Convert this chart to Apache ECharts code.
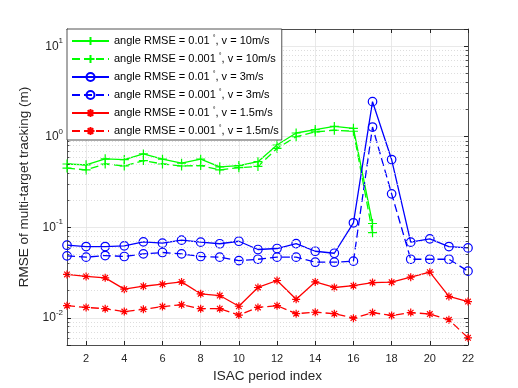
<!DOCTYPE html>
<html>
<head>
<meta charset="utf-8">
<script src="https://cdn.jsdelivr.net/npm/echarts@6/dist/echarts.min.js"></script>
<style>
  html, body { margin: 0; padding: 0; background: #fff; }
  #chart { width: 518px; height: 388px; }
</style>
</head>
<body>
<div id="chart"></div>
<script>
// ISAC period index 1..22
var periods = ['1','2','3','4','5','6','7','8','9','10','11','12','13','14','15','16','17','18','19','20','21','22'];

// v = 10m/s (stops at period 17)
var green01  = [0.50, 0.49, 0.57, 0.56, 0.645, 0.565, 0.51, 0.565, 0.465, 0.48, 0.53, 0.81, 1.10, 1.20, 1.30, 1.24, 0.11];
var green001 = [0.45, 0.43, 0.50, 0.475, 0.545, 0.50, 0.475, 0.48, 0.43, 0.455, 0.47, 0.745, 1.0, 1.13, 1.18, 1.15, 0.087];
// v = 3m/s
var blue01  = [0.0633, 0.0612, 0.0612, 0.0623, 0.069, 0.0667, 0.072, 0.0684, 0.0657, 0.070, 0.0568, 0.0582, 0.066, 0.0543, 0.0516, 0.112, 2.44, 0.56, 0.0684, 0.0744, 0.0612, 0.0591];
var blue001 = [0.0483, 0.0467, 0.0487, 0.0475, 0.0508, 0.0526, 0.0508, 0.0475, 0.0467, 0.0428, 0.0443, 0.0467, 0.0467, 0.0411, 0.0411, 0.0422, 1.28, 0.234, 0.0443, 0.0443, 0.0443, 0.0327];
// v = 1.5m/s
var red01  = [0.0301, 0.0286, 0.0276, 0.0207, 0.0223, 0.0235, 0.0249, 0.0184, 0.0176, 0.0134, 0.0216, 0.0258, 0.0160, 0.0249, 0.0216, 0.0226, 0.0245, 0.0247, 0.0281, 0.0319, 0.0172, 0.0151];
var red001 = [0.0136, 0.0130, 0.0126, 0.0117, 0.0124, 0.0133, 0.0139, 0.0126, 0.0126, 0.0107, 0.0130, 0.0136, 0.0111, 0.0115, 0.0111, 0.0099, 0.0114, 0.0106, 0.0114, 0.0110, 0.0095, 0.0060];

var names = [
  'angle RMSE = 0.01°, v = 10m/s',
  'angle RMSE = 0.001°, v = 10m/s',
  'angle RMSE = 0.01°, v = 3m/s',
  'angle RMSE = 0.001°, v = 3m/s',
  'angle RMSE = 0.01°, v = 1.5m/s',
  'angle RMSE = 0.001°, v = 1.5m/s'
];

// minor log levels (2..9 per decade)
var minorLevels = [0.006, 0.007, 0.008, 0.009,
  0.02, 0.03, 0.04, 0.05, 0.06, 0.07, 0.08, 0.09,
  0.2, 0.3, 0.4, 0.5, 0.6, 0.7, 0.8, 0.9,
  2, 3, 4, 5, 6, 7, 8, 9];

var yMin = 0.005, yMax = 15.5;
var axisColor = '#262626';
var font = 'Liberation Sans';

var plusPath = 'path://M5,0V10M0,5H10';
var starPath = 'path://M5,0V10M0,5H10M1.5,1.5L8.5,8.5M8.5,1.5L1.5,8.5';

var evenOnly = function (idx) { return idx % 2 === 1; };

function makeSeries(name, data, color, dashed, symbol, size) {
  return {
    name: name,
    type: 'line',
    data: data,
    color: color,
    symbol: symbol,
    symbolSize: size,
    showAllSymbol: true,
    animation: false,
    z: 3,
    lineStyle: { color: color, width: 1.3, type: dashed ? [8, 4] : 'solid' },
    itemStyle: { color: 'rgba(0,0,0,0)', borderColor: color, borderWidth: 1.2 }
  };
}

// dotted minor grid lines + short minor ticks at both plot edges,
// drawn on a hidden 0..1 helper x axis
var minorGrid = [];
minorLevels.forEach(function (v) {
  minorGrid.push([{ coord: [0, v] }, { coord: [1, v] }]);
});
var minorTicks = [];
minorLevels.forEach(function (v) {
  minorTicks.push([{ coord: [0, v] }, { coord: [0.006, v] }]);
  minorTicks.push([{ coord: [0.994, v] }, { coord: [1, v] }]);
});

var chart = echarts.init(document.getElementById('chart'));

var option = {
  backgroundColor: '#fff',
  animation: false,
  textStyle: { fontFamily: font },
  grid: { left: 67, right: 50, top: 29, bottom: 43 },
  legend: {
    data: names,
    orient: 'vertical',
    left: 67,
    top: 29,
    itemWidth: 37,
    itemHeight: 10,
    itemGap: 6,
    padding: [6, 3, 3, 4],
    backgroundColor: '#fff',
    borderColor: axisColor,
    borderWidth: 0.8,
    z: 10,
    formatter: function (name) { return name.replace('°', '{sup|°}'); },
    textStyle: {
      fontFamily: font, fontSize: 11, color: '#000', lineHeight: 12,
      rich: { sup: { fontSize: 7, verticalAlign: 'top', padding: [0, 0, 0, 3] } }
    }
  },
  xAxis: [{
    type: 'category',
    data: periods,
    boundaryGap: false,
    name: 'ISAC period index',
    nameLocation: 'middle',
    nameGap: 24,
    nameTextStyle: { fontFamily: font, fontSize: 13.5, color: axisColor },
    axisLine: { lineStyle: { color: axisColor, width: 0.8 } },
    axisTick: { inside: true, length: 4, interval: evenOnly, lineStyle: { color: axisColor } },
    axisLabel: { interval: evenOnly, margin: 8, fontFamily: font, fontSize: 11, color: axisColor },
    splitLine: { show: true, interval: evenOnly, lineStyle: { color: '#e3e3e3', width: 0.8 } }
  }, {
    type: 'category',
    data: periods,
    boundaryGap: false,
    position: 'top',
    axisLine: { lineStyle: { color: axisColor, width: 0.8 } },
    axisTick: { inside: true, length: 4, interval: evenOnly, lineStyle: { color: axisColor } },
    axisLabel: { show: false },
    splitLine: { show: false }
  }, {
    type: 'value',
    min: 0,
    max: 1,
    show: false
  }],
  yAxis: [{
    type: 'log',
    min: yMin,
    max: yMax,
    name: 'RMSE of multi-target tracking (m)',
    nameLocation: 'middle',
    nameGap: 31,
    nameTextStyle: { fontFamily: font, fontSize: 13.5, color: axisColor },
    axisLine: { show: true, lineStyle: { color: axisColor, width: 0.8 } },
    axisTick: { inside: true, length: 4, lineStyle: { color: axisColor } },
    axisLabel: {
      margin: 4,
      fontFamily: font, color: axisColor,
      formatter: function (v) {
        var e = Math.log10(v);
        if (Math.abs(e - Math.round(e)) > 1e-6) return '';
        return '{b|10}{sup|' + Math.round(e) + '}';
      },
      rich: {
        b: { fontSize: 12, lineHeight: 18, color: axisColor },
        sup: { fontSize: 8, verticalAlign: 'top', color: axisColor }
      }
    },
    splitLine: { show: true, lineStyle: { color: '#e3e3e3', width: 0.8 } }
  }, {
    type: 'log',
    min: yMin,
    max: yMax,
    position: 'right',
    axisLine: { show: true, lineStyle: { color: axisColor, width: 0.8 } },
    axisTick: { inside: true, length: 4, lineStyle: { color: axisColor } },
    axisLabel: { show: false },
    splitLine: { show: false }
  }],
  series: [
    {
      name: 'minor grid',
      type: 'line',
      xAxisIndex: 2,
      yAxisIndex: 0,
      data: [],
      z: 1,
      silent: true,
      markLine: {
        silent: true,
        animation: false,
        symbol: ['none', 'none'],
        label: { show: false },
        lineStyle: { color: '#d4d4d4', width: 0.8, type: [1, 2] },
        data: minorGrid
      }
    },
    {
      name: 'minor ticks',
      type: 'line',
      xAxisIndex: 2,
      yAxisIndex: 0,
      data: [],
      z: 4,
      silent: true,
      markLine: {
        silent: true,
        animation: false,
        symbol: ['none', 'none'],
        label: { show: false },
        lineStyle: { color: axisColor, width: 0.8, type: 'solid' },
        data: minorTicks
      }
    },
    makeSeries(names[0], green01, '#00ff00', false, plusPath, 9),
    makeSeries(names[1], green001, '#00ff00', true, plusPath, 9),
    makeSeries(names[2], blue01, '#0000ff', false, 'circle', 8.5),
    makeSeries(names[3], blue001, '#0000ff', true, 'circle', 8.5),
    makeSeries(names[4], red01, '#ff0000', false, starPath, 8),
    makeSeries(names[5], red001, '#ff0000', true, starPath, 8)
  ]
};

chart.setOption(option);
</script>
</body>
</html>
